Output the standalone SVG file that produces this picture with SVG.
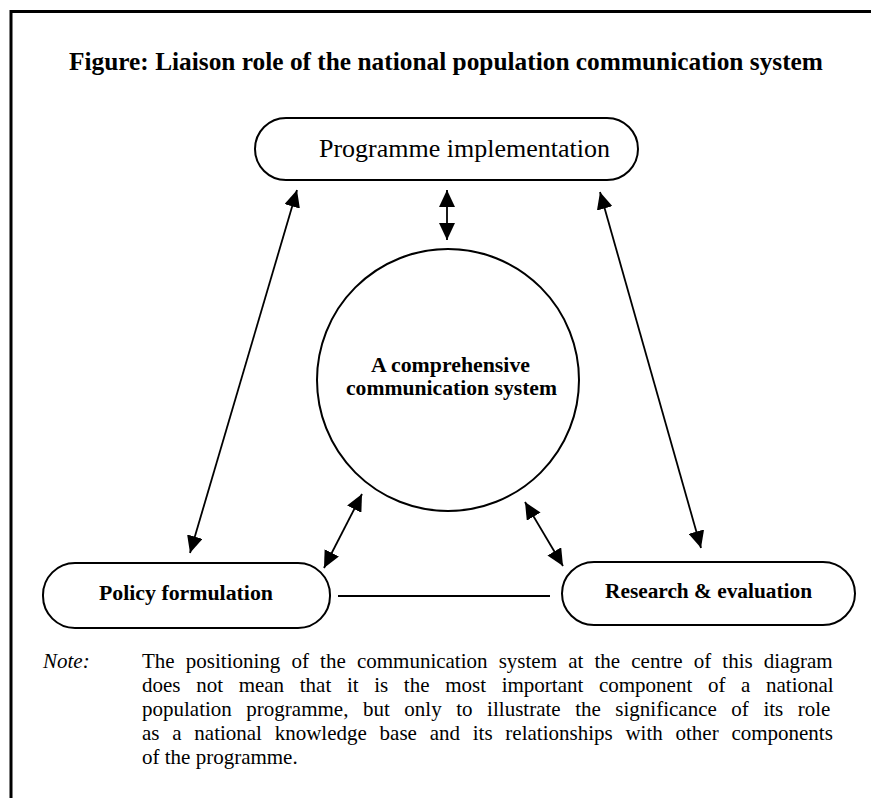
<svg xmlns="http://www.w3.org/2000/svg" width="871" height="798" viewBox="0 0 871 798">
  <style>
    .frame { fill: none; stroke: #000; stroke-width: 3; }
    .node { fill: #fff; stroke: #000; stroke-width: 2; }
    .link { fill: none; stroke: #000; stroke-width: 1.8; }
    .title { font-family: "Liberation Serif", "Times New Roman", serif; font-weight: bold; font-size: 25.4px; fill: #000; }
    .lbl { font-family: "Liberation Serif", "Times New Roman", serif; fill: #000; }
    .bold { font-weight: bold; font-size: 20px; }
    .note { font-family: "Liberation Serif", "Times New Roman", serif; font-size: 21px; fill: #000; }
  </style>
  <defs>
    <marker id="head" viewBox="0 0 17 16" refX="17" refY="8" markerWidth="17" markerHeight="16" markerUnits="userSpaceOnUse" orient="auto-start-reverse">
      <path d="M0,0 L17,8 L0,16 z" fill="#000"/>
    </marker>
  </defs>

  <!-- page frame: top and left rules -->
  <path class="frame" d="M11,798 V11.5 H871"/>

  <text class="title" x="69" y="70" textLength="754" lengthAdjust="spacingAndGlyphs">Figure: Liaison role of the national population communication system</text>

  <!-- connectors -->
  <g id="connectors">
    <line class="link" x1="447" y1="190" x2="447" y2="240" marker-start="url(#head)" marker-end="url(#head)"/>
    <line class="link" x1="297" y1="190" x2="190" y2="553" marker-start="url(#head)" marker-end="url(#head)"/>
    <line class="link" x1="600" y1="192" x2="701" y2="548" marker-start="url(#head)" marker-end="url(#head)"/>
    <line class="link" x1="362" y1="494" x2="324" y2="568" marker-start="url(#head)" marker-end="url(#head)"/>
    <line class="link" x1="525" y1="502" x2="563" y2="566" marker-start="url(#head)" marker-end="url(#head)"/>
    <line class="link" x1="338" y1="596" x2="550" y2="596"/>
  </g>

  <g id="programme-implementation">
    <rect class="node" x="255" y="118" width="383" height="62" rx="31" ry="31"/>
    <text class="lbl" x="319" y="157" font-size="26" textLength="291" lengthAdjust="spacingAndGlyphs">Programme implementation</text>
  </g>

  <g id="communication-system">
    <circle class="node" cx="448" cy="380" r="131"/>
    <text class="lbl bold" x="371" y="372" textLength="159" lengthAdjust="spacingAndGlyphs">A comprehensive</text>
    <text class="lbl bold" x="346" y="395" textLength="211" lengthAdjust="spacingAndGlyphs">communication system</text>
  </g>

  <g id="policy-formulation">
    <rect class="node" x="43" y="563" width="287" height="65" rx="32" ry="32"/>
    <text class="lbl bold" x="99" y="600" textLength="174" lengthAdjust="spacingAndGlyphs">Policy formulation</text>
  </g>

  <g id="research-evaluation">
    <rect class="node" x="562" y="562" width="293" height="63" rx="32" ry="32"/>
    <text class="lbl bold" x="605" y="598" textLength="207" lengthAdjust="spacingAndGlyphs">Research &amp; evaluation</text>
  </g>

  <!-- note, justified to the right margin by word spacing -->
  <text class="note" x="43" y="668" font-style="italic">Note:</text>
  <text class="note" x="142" y="668" word-spacing="5.9">The positioning of the communication system at the centre of this diagram</text>
  <text class="note" x="142" y="692" word-spacing="10.4">does not mean that it is the most important component of a national</text>
  <text class="note" x="142" y="716" word-spacing="9.3">population programme, but only to illustrate the significance of its role</text>
  <text class="note" x="142" y="740" word-spacing="7.5">as a national knowledge base and its relationships with other components</text>
  <text class="note" x="142" y="764">of the programme.</text>
</svg>
